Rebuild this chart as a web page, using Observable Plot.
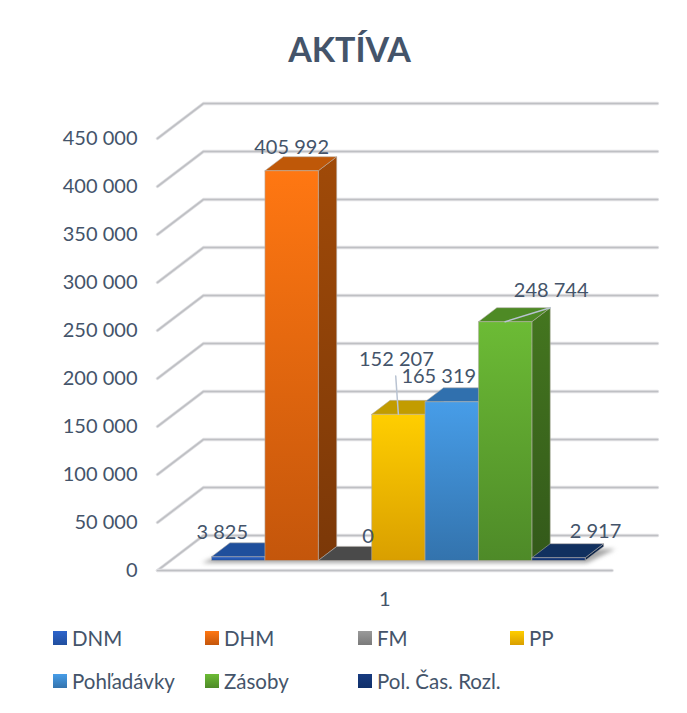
<!DOCTYPE html>
<html lang="sk">
<head>
<meta charset="utf-8">
<script src="https://cdn.jsdelivr.net/npm/d3@7"></script>
<script src="https://cdn.jsdelivr.net/npm/@observablehq/plot@0.6"></script>
<style>
  html,body{margin:0;background:#fff}
  #page{position:relative;width:687px;height:713px;overflow:hidden;font-family:Lato,sans-serif;color:#44546a}
  #title{position:absolute;left:0;top:0;width:699px;height:90px;line-height:97px;text-align:center;font-size:34px;font-weight:700}
  #chart{position:absolute;left:0;top:90px}
  .lg{position:absolute;font-size:20.5px;line-height:22px;white-space:nowrap;display:flex;align-items:center}
  .lg i{display:inline-block;width:14px;height:14px;margin-right:5px}
</style>
</head>
<body>
<div id="page">
  <div id="title">AKTÍVA</div>
  <div id="chart"></div>
  <div id="legend"></div>
</div>
<script>
const categories = ["DNM","DHM","FM","PP","Pohľadávky","Zásoby","Pol. Čas. Rozl."];
const values = [3825,405992,0,152207,165319,248744,2917];
const axisTicks = [0,50000,100000,150000,200000,250000,300000,350000,400000,450000];

const frontTop = ["#2c64cc","#ff7712","#9a9a9a","#ffce00","#479de8","#6cbb35","#173a80"];
const frontBottom = ["#214f9e","#c4560b","#7a7a7a","#d99f00","#3373ad","#4e8a28","#10306a"];
const topFace = ["#1f4f9c","#bf5808","#4a4a4a","#c29c00","#3070ae","#4e8a25","#11305f"];
const sideTop = ["#1a4080","#a04a08","#404040","#a88600","#2a5f95","#44761f","#0e2850"];
const sideBottom = ["#173870","#7b3808","#383838","#8c7000","#245080","#33591a","#0c2244"];

// Oblique projection: depth 0 = front of the floor, depth 1 = back wall
const depthX = 0.861, depthY = 36458;
const pt = (u, v, d) => ({x: u + d * depthX, y: v + d * depthY});
const barFront = 0.286, barBack = 0.686;
const floorL = -0.766, floorFrontR = 7.75, wallR = 8.6 - depthX;
const fmt = d3.formatLocale({decimal:",",thousands:" ",grouping:[3]}).format(",");
const textColor = "#44546a";

const defs = () => {
  const d = d3.create("svg:defs");
  const grad = (id, a, b) => {
    const g = d.append("linearGradient").attr("id", id).attr("x1",0).attr("y1",0).attr("x2",0).attr("y2",1);
    g.append("stop").attr("offset","0").attr("stop-color",a);
    g.append("stop").attr("offset","1").attr("stop-color",b);
  };
  categories.forEach((c,i) => {
    grad("front"+i, frontTop[i], frontBottom[i]);
    grad("side"+i, sideTop[i], sideBottom[i]);
  });
  return d.node();
};

const face = (points, fill, stroke = "#b4afa8") =>
  Plot.line([...points, points[0]], {x:"x", y:"y", fill, stroke, strokeWidth:0.8, strokeOpacity:0.7, curve:"linear"});

const marks = [defs];

// grid: wall, side wall
for (const v of axisTicks) {
  const p = [pt(floorL,v,0), pt(floorL,v,1), pt(wallR,v,1)];
  marks.push(Plot.line(p,{x:"x",y:"y",stroke:"#e2e2e5",strokeWidth:3.4,strokeLinejoin:"round",strokeLinecap:"round"}));
  marks.push(Plot.line(p,{x:"x",y:"y",stroke:"#bfc0c4",strokeWidth:1.6,strokeLinejoin:"round"}));
}
// floor front edge
const fe = [pt(floorL,0,0), pt(floorFrontR,0,0)];
marks.push(Plot.line(fe,{x:"x",y:"y",stroke:"#e2e2e5",strokeWidth:3.4,strokeLinecap:"round"}));
marks.push(Plot.line(fe,{x:"x",y:"y",stroke:"#bfc0c4",strokeWidth:1.6}));

// soft shadow of the bar row on the floor
marks.push(Plot.line([pt(-0.18,-2500,barFront),pt(7.03,-2500,barFront),pt(7.22,-2500,barBack),pt(0.05,-2500,barBack),pt(-0.18,-2500,barFront)],
  {x:"x",y:"y",fill:"#8a8a8a",fillOpacity:0.75,imageFilter:"blur(2px)"}));

// bars
categories.forEach((c,i) => {
  const v = values[i];
  const fb = pt(i,0,barFront), A = pt(i,v,barFront), B = pt(i+1,v,barFront),
        C = pt(i+1,v,barBack), D = pt(i,v,barBack), E = pt(i+1,0,barFront), F = pt(i+1,0,barBack);
  if (v > 0) marks.push(face([E,F,C,B], `url(#side${i})`));
  marks.push(face([A,B,C,D], topFace[i]));
  if (v > 0) marks.push(face([fb,E,B,A], `url(#front${i})`));
});

// leader lines
const leaderColor = "#b9c3d2";
const leader = (a,b) => Plot.line([a,b],{x:"x",y:"y",stroke:leaderColor,strokeWidth:1.5});
marks.push(leader(pt(3.5,values[3],barFront), pt(3.45,values[3]+40000,barFront)));
marks.push(leader(pt(5.5,values[5],barFront), pt(6,values[5],barBack)));

// data labels, offsets in pixels from the front-top centre of each bar
const labelDx = [-16,0,23,-2,-13,46,37];
const labelDy = [-24,-23,-24,-55,-25,-31,-26];
categories.forEach((c,i) => {
  const p = pt(i+0.5,values[i],barFront);
  marks.push(Plot.text([p],{x:"x",y:"y",text:()=>fmt(values[i]),dx:labelDx[i],dy:labelDy[i],fontSize:20,fill:textColor}));
});

marks.push(Plot.axisY({ticks:axisTicks,tickSize:0,tickPadding:20,tickFormat:fmt,fontSize:20,fill:textColor,label:null}));
marks.push(Plot.axisX({ticks:[3.49],tickSize:0,tickPadding:21,tickFormat:()=>"1",fontSize:20,fill:textColor,label:null}));

const plot = Plot.plot({
  width:687,height:520,marginLeft:157,marginRight:30,marginTop:13,marginBottom:40,
  x:{domain:[floorL,8.6]},
  y:{domain:[0,486458]},
  style:{fontFamily:"Lato,sans-serif",background:"#fff",overflow:"visible"},
  marks
});
document.getElementById("chart").appendChild(plot);

// legend
const lgX = [53,205,358,510,53,205,358], lgY = [627,627,627,627,670,670,670];
const legend = document.getElementById("legend");
categories.forEach((c,i) => {
  const el = document.createElement("div");
  el.className = "lg";
  el.style.left = lgX[i]+"px"; el.style.top = lgY[i]+"px";
  el.innerHTML = `<i style="background:linear-gradient(${frontTop[i]},${frontBottom[i]})"></i><span>${c}</span>`;
  legend.appendChild(el);
});
</script>
</body>
</html>
